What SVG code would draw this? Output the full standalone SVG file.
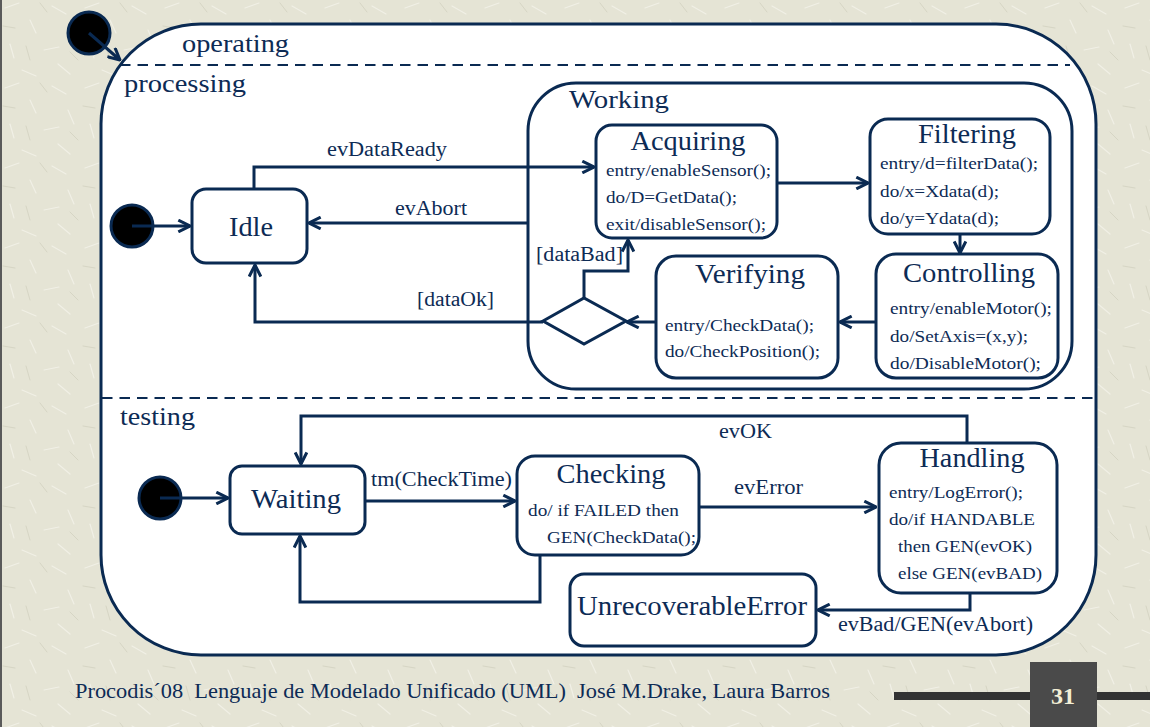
<svg xmlns="http://www.w3.org/2000/svg" width="1150" height="727" viewBox="0 0 1150 727" font-family="'Liberation Serif', 'Times New Roman', 'DejaVu Serif', serif">
  <defs>
    <pattern id="paper" width="80" height="80" patternUnits="userSpaceOnUse">
      <rect width="80" height="80" fill="#e5e4d5"/>
      <g stroke="#f1f0e6" stroke-width="1.2" stroke-linecap="round">
        <line x1="5" y1="8" x2="19" y2="3"/>
        <line x1="30" y1="20" x2="36" y2="33"/>
        <line x1="52" y1="6" x2="66" y2="14"/>
        <line x1="10" y1="44" x2="14" y2="58"/>
        <line x1="44" y1="50" x2="59" y2="47"/>
        <line x1="68" y1="30" x2="74" y2="44"/>
        <line x1="22" y1="70" x2="36" y2="76"/>
        <line x1="58" y1="64" x2="70" y2="74"/>
      </g>
      <g stroke="#d6d5c4" stroke-width="1" stroke-linecap="round">
        <line x1="40" y1="3" x2="47" y2="12"/>
        <line x1="3" y1="26" x2="15" y2="28"/>
        <line x1="26" y1="46" x2="30" y2="60"/>
        <line x1="70" y1="52" x2="78" y2="60"/>
      </g>
    </pattern>
    <marker id="open" viewBox="0 0 12 12" refX="11" refY="6" markerWidth="14" markerHeight="14" markerUnits="userSpaceOnUse" orient="auto">
      <path d="M1,1 L11,6 L1,11" fill="none" stroke="#0a2a52" stroke-width="2.6" stroke-linejoin="miter"/>
    </marker>
  </defs>
  <style>
    .box { fill: #ffffff; stroke: #0a2a52; stroke-width: 3; }
    .init { fill: #000000; stroke: #0a2a52; stroke-width: 3; }
    .edge { fill: none; stroke: #0a2a52; stroke-width: 3; }
    .dash { fill: none; stroke: #0a2a52; stroke-width: 2; stroke-dasharray: 10.5 7; }
    text { font-family: "Liberation Serif", "Times New Roman", "DejaVu Serif", serif; fill: #0d2b55; }
    .region { font-size: 26px; }
    .title { font-size: 26.5px; text-anchor: middle; }
    .body { font-size: 17.5px; }
    .lbl { font-size: 20px; }
    .foot { font-size: 22px; white-space: pre; }
  </style>

  <!-- slide background -->
  <rect width="1150" height="727" fill="url(#paper)"/>
  <line x1="1" y1="0" x2="1" y2="727" stroke="#5a5a5a" stroke-width="2"/>

  <!-- composite state: operating, split into two concurrent regions -->
  <g id="operating">
    <rect class="box" x="101" y="24" width="995" height="631" rx="100"/>
    <text class="region" x="182" y="52" textLength="107" lengthAdjust="spacingAndGlyphs">operating</text>
    <line class="dash" x1="120" y1="65" x2="1070" y2="65"/>
    <line class="dash" x1="102" y1="398" x2="1095" y2="398"/>
    <text class="region" x="124" y="92" textLength="122" lengthAdjust="spacingAndGlyphs">processing</text>
    <text class="region" x="120" y="425" textLength="75" lengthAdjust="spacingAndGlyphs">testing</text>
  </g>

  <g id="working">
    <rect class="box" x="528" y="83" width="544" height="306" rx="48"/>
    <text class="region" x="569" y="108" textLength="100" lengthAdjust="spacingAndGlyphs">Working</text>
  </g>

  <!-- initial pseudostates -->
  <g id="init-operating"><circle class="init" cx="89" cy="33" r="21"/></g>
  <g id="init-processing"><circle class="init" cx="132" cy="226" r="21"/></g>
  <g id="init-testing"><circle class="init" cx="160" cy="498" r="21"/></g>

  <!-- connectors -->
  <g id="connectors">
    <path class="edge" d="M89,33 L120,60" marker-end="url(#open)"/>
    <path class="edge" d="M132,226 H190" marker-end="url(#open)"/>
    <path class="edge" d="M160,498 H228" marker-end="url(#open)"/>
    <path class="edge" d="M254,189 V167 H594" marker-end="url(#open)"/>
    <path class="edge" d="M528,223 H309" marker-end="url(#open)"/>
    <path class="edge" d="M777,183 H868" marker-end="url(#open)"/>
    <path class="edge" d="M960,234 V253" marker-end="url(#open)"/>
    <path class="edge" d="M876,322 H840" marker-end="url(#open)"/>
    <path class="edge" d="M656,322 H627" marker-end="url(#open)"/>
    <path class="edge" d="M584,298 V271 H628 V240" marker-end="url(#open)"/>
    <path class="edge" d="M543,322 H255 V265" marker-end="url(#open)"/>
    <path class="edge" d="M365,501 H515" marker-end="url(#open)"/>
    <path class="edge" d="M540,555 V602 H300 V536" marker-end="url(#open)"/>
    <path class="edge" d="M967,443 V416 H301 V464" marker-end="url(#open)"/>
    <path class="edge" d="M699,507 H876" marker-end="url(#open)"/>
    <path class="edge" d="M970,593 V610 H818" marker-end="url(#open)"/>
    <text class="lbl" x="327" y="156" textLength="120" lengthAdjust="spacingAndGlyphs">evDataReady</text>
    <text class="lbl" x="395" y="215" textLength="72" lengthAdjust="spacingAndGlyphs">evAbort</text>
    <text class="lbl" x="417" y="306" textLength="77" lengthAdjust="spacingAndGlyphs">[dataOk]</text>
    <text class="lbl" x="536" y="261" textLength="87" lengthAdjust="spacingAndGlyphs">[dataBad]</text>
    <text class="lbl" x="371" y="486" textLength="141" lengthAdjust="spacingAndGlyphs">tm(CheckTime)</text>
    <text class="lbl" x="734" y="494" textLength="69" lengthAdjust="spacingAndGlyphs">evError</text>
    <text class="lbl" x="719" y="438" textLength="53" lengthAdjust="spacingAndGlyphs">evOK</text>
    <text class="lbl" x="838" y="631" textLength="195" lengthAdjust="spacingAndGlyphs">evBad/GEN(evAbort)</text>
  </g>

  <g id="decision">
    <polygon class="box" points="543,321 584,298 626,321 584,344"/>
  </g>

  <g id="idle">
    <rect class="box" x="192" y="189" width="115" height="74" rx="14"/>
    <text class="title" x="251" y="236" textLength="44" lengthAdjust="spacingAndGlyphs">Idle</text>
  </g>

  <g id="acquiring">
    <rect class="box" x="596" y="125" width="181" height="113" rx="16"/>
    <text class="title" x="688" y="150" textLength="115" lengthAdjust="spacingAndGlyphs">Acquiring</text>
    <text class="body" x="606" y="176" textLength="165" lengthAdjust="spacingAndGlyphs">entry/enableSensor();</text>
    <text class="body" x="606" y="203" textLength="131" lengthAdjust="spacingAndGlyphs">do/D=GetData();</text>
    <text class="body" x="606" y="230" textLength="160" lengthAdjust="spacingAndGlyphs">exit/disableSensor();</text>
  </g>

  <g id="filtering">
    <rect class="box" x="870" y="119" width="180" height="115" rx="18"/>
    <text class="title" x="967" y="143" textLength="98" lengthAdjust="spacingAndGlyphs">Filtering</text>
    <text class="body" x="880" y="169" textLength="158" lengthAdjust="spacingAndGlyphs">entry/d=filterData();</text>
    <text class="body" x="880" y="197" textLength="119" lengthAdjust="spacingAndGlyphs">do/x=Xdata(d);</text>
    <text class="body" x="880" y="224" textLength="119" lengthAdjust="spacingAndGlyphs">do/y=Ydata(d);</text>
  </g>

  <g id="controlling">
    <rect class="box" x="876" y="254" width="182" height="124" rx="20"/>
    <text class="title" x="969" y="282" textLength="132" lengthAdjust="spacingAndGlyphs">Controlling</text>
    <text class="body" x="890" y="314" textLength="162" lengthAdjust="spacingAndGlyphs">entry/enableMotor();</text>
    <text class="body" x="890" y="342" textLength="138" lengthAdjust="spacingAndGlyphs">do/SetAxis=(x,y);</text>
    <text class="body" x="890" y="369" textLength="151" lengthAdjust="spacingAndGlyphs">do/DisableMotor();</text>
  </g>

  <g id="verifying">
    <rect class="box" x="656" y="256" width="182" height="122" rx="20"/>
    <text class="title" x="750" y="283" textLength="110" lengthAdjust="spacingAndGlyphs">Verifying</text>
    <text class="body" x="665" y="331" textLength="149" lengthAdjust="spacingAndGlyphs">entry/CheckData();</text>
    <text class="body" x="665" y="357" textLength="155" lengthAdjust="spacingAndGlyphs">do/CheckPosition();</text>
  </g>

  <g id="waiting">
    <rect class="box" x="230" y="466" width="135" height="68" rx="12"/>
    <text class="title" x="296" y="508" textLength="90" lengthAdjust="spacingAndGlyphs">Waiting</text>
  </g>

  <g id="checking">
    <rect class="box" x="517" y="456" width="182" height="99" rx="18"/>
    <text class="title" x="611" y="483" textLength="109" lengthAdjust="spacingAndGlyphs">Checking</text>
    <text class="body" x="528" y="516" textLength="151" lengthAdjust="spacingAndGlyphs">do/ if FAILED then</text>
    <text class="body" x="547" y="543" textLength="149" lengthAdjust="spacingAndGlyphs">GEN(CheckData();</text>
  </g>

  <g id="handling">
    <rect class="box" x="879" y="443" width="178" height="150" rx="22"/>
    <text class="title" x="972" y="467" textLength="105" lengthAdjust="spacingAndGlyphs">Handling</text>
    <text class="body" x="889" y="498" textLength="134" lengthAdjust="spacingAndGlyphs">entry/LogError();</text>
    <text class="body" x="889" y="525" textLength="146" lengthAdjust="spacingAndGlyphs">do/if HANDABLE</text>
    <text class="body" x="898" y="552" textLength="134" lengthAdjust="spacingAndGlyphs">then GEN(evOK)</text>
    <text class="body" x="898" y="579" textLength="144" lengthAdjust="spacingAndGlyphs">else GEN(evBAD)</text>
  </g>

  <g id="unrecoverable">
    <rect class="box" x="570" y="574" width="246" height="72" rx="14"/>
    <text class="title" x="692" y="615" textLength="230" lengthAdjust="spacingAndGlyphs">UnrecoverableError</text>
  </g>

  <!-- slide footer -->
  <g id="footer">
    <text class="foot" x="75" y="698" textLength="755" lengthAdjust="spacingAndGlyphs" xml:space="preserve">Procodis´08  Lenguaje de Modelado Unificado (UML)  José M.Drake, Laura Barros</text>
    <rect x="894" y="692" width="256" height="8" fill="#333333"/>
    <rect x="1030" y="662" width="67" height="65" fill="#4a4a4a"/>
    <text x="1063" y="704" font-size="24" font-weight="bold" text-anchor="middle" style="fill:#f3efd6">31</text>
  </g>
</svg>
